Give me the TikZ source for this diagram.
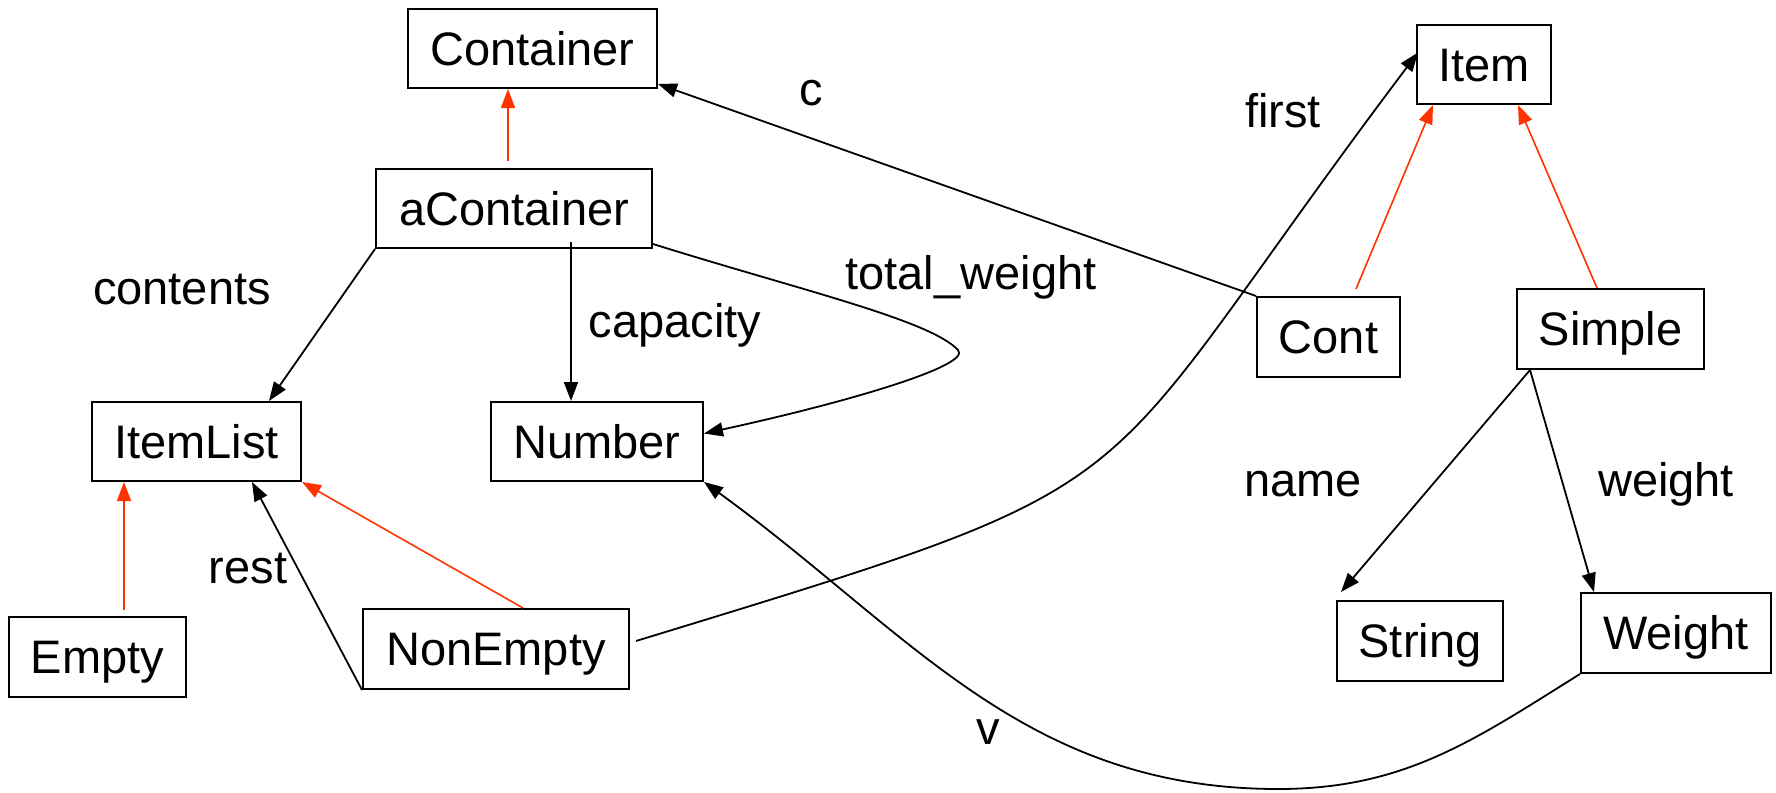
\documentclass[tikz,border=0pt]{standalone}
\usepackage{fontspec}
\setmainfont{Liberation Sans}
\usetikzlibrary{arrows.meta}
\definecolor{inhred}{HTML}{FF3300}

\begin{document}
\begin{tikzpicture}[x=1pt, y=-1pt, font=\fontsize{47}{56}\selectfont, cls/.style={draw, line width=2pt, inner sep=0pt, minimum height=79pt, text height=40pt, text depth=6.3pt}, lab/.style={inner sep=0pt, text height=40pt, text depth=6.3pt}, n/.style={-{Triangle[length=19pt, width=14pt]}, line width=1.8pt}, inh/.style={-{Triangle[length=19pt, width=14pt]}, line width=1.6pt, color=inhred}]
            \useasboundingbox (0,0) rectangle (1776,792);
            % nodes
            \node[cls, minimum width=249pt] (Container) at (532.5,48.5) {Container};
            \node[cls, minimum width=276pt] (aContainer) at (514,208.5) {aContainer};
            \node[cls, minimum width=209pt] (ItemList) at (196.5,441.5) {ItemList};
            \node[cls, minimum width=212pt] (Number) at (597,441.5) {Number};
            \node[cls, minimum width=177pt, minimum height=80pt] (Empty) at (97.5,657) {Empty};
            \node[cls, minimum width=266pt, minimum height=80pt] (NonEmpty) at (496,649) {NonEmpty};

            \node[cls, minimum width=134pt] (Item) at (1484,64.5) {Item};
            \node[cls, minimum width=143pt, minimum height=80pt] (Cont) at (1328.5,337) {Cont};
            \node[cls, minimum width=187pt, minimum height=80pt] (Simple) at (1610.5,329) {Simple};
            \node[cls, minimum width=166pt, minimum height=80pt] (String) at (1420,641) {String};
            \node[cls, minimum width=190pt, minimum height=80pt] (Weight) at (1676,633) {Weight};

            % labels
            \node[lab] (lc) at (811,89) {c};
            \node[lab] (lfirst) at (1283,111) {first};
            \node[lab] (lcontents) at (182,288) {contents};
            \node[lab] (ltotal) at (971,273) {total\_weight};
            \node[lab] (lcapacity) at (675,321) {capacity};
            \node[lab] (lname) at (1303,480) {name};
            \node[lab] (lweight) at (1666,480) {weight};
            \node[lab] (lrest) at (248,567) {rest};
            \node[lab] (lv) at (988,728) {v};

            % inheritance
            \draw[inh] ([xshift=-6pt, yshift=7pt]aContainer.north) -- ([xshift=-24.5pt]Container.south);
            \draw[inh] ([xshift=26.5pt, yshift=6pt]Empty.north) -- ([xshift=-72.5pt]ItemList.south);
            \draw[inh] ([xshift=27pt]NonEmpty.north) -- (ItemList.south east);
            \draw[inh] ([xshift=27.5pt, yshift=7pt]Cont.north) -- ([xshift=-51pt]Item.south);
            \draw[inh] ([xshift=-13.5pt]Simple.north) -- ([xshift=34pt]Item.south);

            % edges
            \draw[n] (Cont.north west) -- ([yshift=5pt]Container.south east);
            \draw[n] (aContainer.south west) -- ([xshift=72.5pt]ItemList.north);
            \draw[n] ([xshift=57pt, yshift=7pt]aContainer.south) -- ([xshift=-26pt]Number.north);
            \draw[n] ([yshift=5pt]aContainer.south east) .. controls (800,290) and (930,320) .. (958,350) .. controls (972,365) and (853,401) .. ([yshift=8pt]Number.east);
            \draw[n] (NonEmpty.south west) -- ([xshift=55.5pt]ItemList.south);
            \draw[n] ([xshift=6pt, yshift=8pt]NonEmpty.east) to[out=17, in=-127, looseness=1.5] ([xshift=2pt, yshift=12pt]Item.west);
            \draw[n] ([xshift=14pt]Simple.south west) -- ([xshift=5pt, yshift=8pt]String.north west);
            \draw[n] ([xshift=14pt]Simple.south west) -- ([xshift=14pt]Weight.north west);
            \draw[n] (Weight.south west) to[out=-148, in=0] (1278,789) to[out=180, in=-36] (Number.south east);
        \end{tikzpicture}
\end{document}
